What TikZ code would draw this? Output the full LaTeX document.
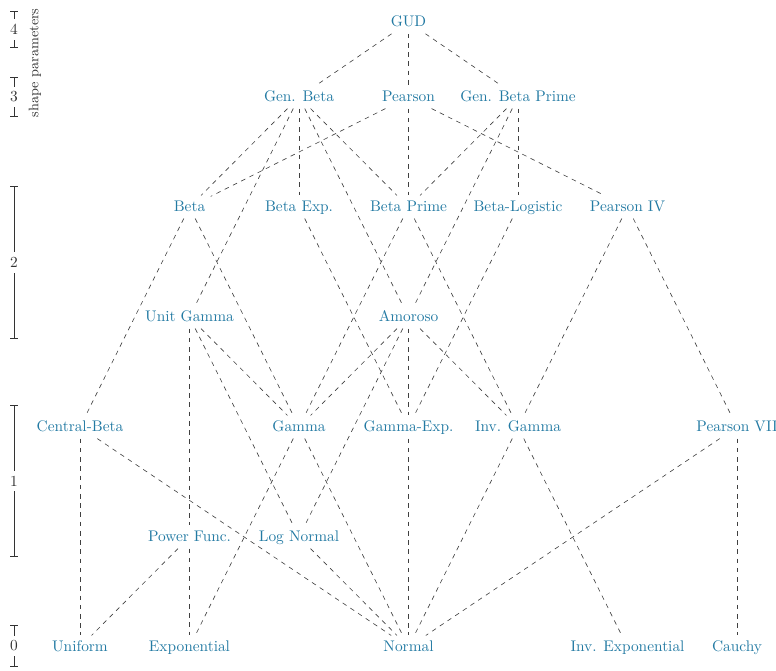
\documentclass[tikz,border=0pt]{standalone}
\usetikzlibrary{arrows.meta}

\definecolor{distblue}{RGB}{35,122,163}

\tikzset{
  dist/.style={text=distblue, text height=1.6ex, text depth=.25ex},
  link/.style={dashed, black!75},
  scalebar/.style={{Bar[width=5pt]}-{Bar[width=5pt]}, black!80}
}

\begin{document}
\begin{tikzpicture}[x=71.175pt, y=71.5pt]
  \useasboundingbox (-0.7306,-0.209) rectangle (6.356,5.882);

  % Shape parameter scale on the left
  \foreach \lvl/\top/\bot in {4/5.78/5.445, 3/5.18/4.82, 2/4.19/2.8, 1/2.2/0.82, 0/0.2/-0.18} {
    \draw[scalebar] (-0.603,\top) -- (-0.603,\bot)
      node[midway, fill=white, text=black!80] {\lvl};
  }
  \node[rotate=90, font=\small, text=black!80] (shapelabel) at (-0.411,5.31) {shape parameters};

  % Four and three shape parameters
  \node[dist] (gud) at (3,5.68) {GUD};
  \node[dist] (genbeta) at (2,5) {Gen. Beta};
  \node[dist] (pearson) at (3,5) {Pearson};
  \node[dist] (genbetaprime) at (4,5) {Gen. Beta Prime};

  % Two shape parameters
  \node[dist] (beta) at (1,4) {Beta};
  \node[dist] (betaexp) at (2,4) {Beta Exp.};
  \node[dist] (betaprime) at (3,4) {Beta Prime};
  \node[dist] (betalogistic) at (4,4) {Beta-Logistic};
  \node[dist] (pearsoniv) at (5,4) {Pearson IV};

  \node[dist] (unitgamma) at (1,3) {Unit Gamma};
  \node[dist] (amoroso) at (3,3) {Amoroso};

  % One shape parameter
  \node[dist] (centralbeta) at (0,2) {Central-Beta};
  \node[dist] (gamma) at (2,2) {Gamma};
  \node[dist] (gammaexp) at (3,2) {Gamma-Exp.};
  \node[dist] (invgamma) at (4,2) {Inv. Gamma};
  \node[dist] (pearsonvii) at (6,2) {Pearson VII};

  \node[dist] (powerfunc) at (1,1) {Power Func.};
  \node[dist] (lognormal) at (2,1) {Log Normal};

  % No shape parameters
  \node[dist] (uniform) at (0,0) {Uniform};
  \node[dist] (exponential) at (1,0) {Exponential};
  \node[dist] (normal) at (3,0) {Normal};
  \node[dist] (invexp) at (5,0) {Inv. Exponential};
  \node[dist] (cauchy) at (6,0) {Cauchy};

  % Dashed links between the families
  \foreach \a/\b in {gud/genbeta, gud/pearson, gud/genbetaprime,
      genbeta/beta, genbeta/unitgamma, genbeta/betaexp, genbeta/betaprime, genbeta/amoroso,
      pearson/beta, pearson/betaprime, pearson/pearsoniv,
      genbetaprime/betaprime, genbetaprime/amoroso, genbetaprime/betalogistic,
      beta/centralbeta, beta/gamma, betaexp/gammaexp,
      betaprime/gamma, betaprime/invgamma, betalogistic/gammaexp,
      pearsoniv/invgamma, pearsoniv/pearsonvii,
      unitgamma/powerfunc, unitgamma/gamma, unitgamma/lognormal,
      amoroso/gamma, amoroso/lognormal, amoroso/gammaexp, amoroso/invgamma,
      centralbeta/uniform, centralbeta/normal,
      gamma/exponential, gamma/normal, gammaexp/normal,
      invgamma/normal, invgamma/invexp,
      pearsonvii/normal, pearsonvii/cauchy,
      powerfunc/uniform, powerfunc/exponential, lognormal/normal} {
    \draw[link] (\a) -- (\b);
  }
\end{tikzpicture}
\end{document}
